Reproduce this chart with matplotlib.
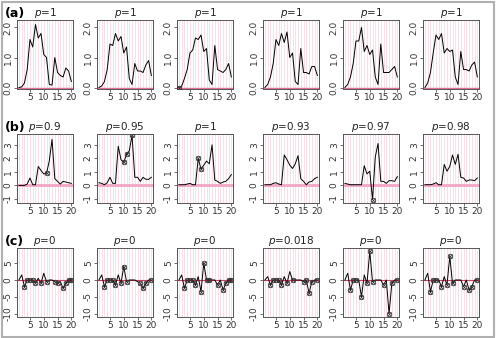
import matplotlib.pyplot as plt
import matplotlib.patches as mpatches
import numpy as np

x = np.arange(1, 21)

# row (a): y values per panel
a_vals = [
    [0.0, 0.02, 0.15, 0.6, 1.6, 1.35, 2.1, 1.65, 1.8, 1.1, 1.0, 0.1, 0.08, 1.0, 0.5, 0.4, 0.35, 0.65, 0.55, 0.2],
    [0.0, 0.05, 0.2, 0.6, 1.45, 1.4, 1.8, 1.55, 1.7, 1.15, 1.35, 0.3, 0.1, 0.8, 0.55, 0.55, 0.5, 0.75, 0.9, 0.4],
    [0.0, 0.05, 0.3, 0.6, 1.15, 1.25, 1.65, 1.6, 1.75, 1.2, 1.3, 0.25, 0.1, 1.4, 0.6, 0.55, 0.5, 0.6, 0.8, 0.35],
    [0.0, 0.1, 0.35, 0.8, 1.6, 1.4, 1.8, 1.5, 1.85, 1.0, 1.15, 0.2, 0.1, 1.3, 0.5, 0.5, 0.45, 0.7, 0.7, 0.4],
    [0.0, 0.1, 0.35, 0.8, 1.55, 1.55, 2.0, 1.2, 1.4, 1.1, 1.25, 0.35, 0.1, 1.45, 0.5, 0.5, 0.5, 0.6, 0.7, 0.35],
    [0.0, 0.15, 0.5, 1.15, 1.75, 1.6, 1.8, 1.15, 1.3, 1.2, 1.25, 0.35, 0.1, 1.2, 0.6, 0.6, 0.55, 0.75, 0.85, 0.35],
]
a_marks = [[], [], [1], [], [], []]
a_titles = ["1", "1", "1", "1", "1", "1"]

# row (b)
b_vals = [
    [0.0, 0.0, 0.0, 0.1, 0.55, 0.05, 0.05, 1.4, 1.1, 0.85, 0.9, 1.8, 3.4, 0.5, 0.3, 0.1, 0.3, 0.25, 0.2, 0.15],
    [0.2, 0.15, 0.05, 0.2, 0.6, 0.15, 0.15, 2.9, 1.9, 1.7, 2.3, 2.55, 3.7, 0.6, 0.6, 0.3, 0.6, 0.45, 0.45, 0.6],
    [0.05, 0.05, 0.05, 0.1, 0.15, 0.05, 0.05, 2.0, 1.2, 1.5, 1.8, 1.6, 3.0, 0.4, 0.3, 0.15, 0.25, 0.3, 0.5, 0.8],
    [0.05, 0.05, 0.05, 0.15, 0.2, 0.1, 0.05, 2.25, 1.9, 1.5, 1.25, 1.6, 2.2, 0.5, 0.3, 0.05, 0.25, 0.3, 0.5, 0.6],
    [0.15, 0.1, 0.05, 0.05, 0.05, 0.05, 0.05, 1.45, 0.85, 1.05, -1.05, 2.1, 3.1, 0.3, 0.3, 0.15, 0.35, 0.35, 0.3, 0.65],
    [0.05, 0.05, 0.05, 0.1, 0.2, 0.05, 0.05, 1.55, 1.05, 1.4, 2.25, 1.55, 2.3, 0.6, 0.55, 0.3, 0.4, 0.4, 0.35, 0.55],
]
b_marks = [[11], [10, 11, 13], [8, 9], [], [11], []]
b_titles = ["0.9", "0.95", "1", "0.93", "0.97", "0.98"]

# row (c)
c_vals = [
    [0, 1.5, -2, 0, 0, 0, -1, 0.5, -1, 2, -0.5, 0, 0, -0.5, -1, -0.5, -2.5, -1, 0, 0],
    [0, 1.5, -2, 0, 0, 0, -1.5, 1.5, -1, 4, -0.5, 0, 0, 0, -0.5, -1, -2.5, -1, 0, 0],
    [0, 1.5, -2.5, 0, 0, 0, -1.5, 1, -3.5, 5, 0, 0, 0, 0, -1.5, 0, -3, -1, 0, 0],
    [0, 1, -1.5, 0, 0, 0, -1.5, 1, -1, 2.5, 0, 0, 0, 0, -0.5, 0, -4, -0.5, 0, 0],
    [0, 2, -3, 0, 0, 0, -5, 1.5, -1, 8.5, -0.5, 0, 0, 0, -1.5, 0, -10, -1, 0, 0],
    [0, 2, -3.5, 0, 0, 0, -2, 1, -1.5, 7, -1, 0, 0, 0, -2, 0, -3, -2, 0, 0],
]
c_marks = [
    [3, 4, 5, 6, 7, 9, 11, 14, 15, 17, 18, 19, 20],
    [3, 4, 5, 6, 7, 9, 10, 11, 16, 17, 18, 20],
    [3, 4, 5, 6, 7, 9, 10, 11, 12, 15, 17, 18, 19, 20],
    [3, 4, 5, 6, 7, 9, 11, 15, 16, 17, 18, 20],
    [3, 4, 5, 7, 9, 10, 11, 15, 17, 18, 20],
    [3, 4, 5, 7, 9, 10, 11, 15, 17, 18, 20],
]
c_titles = ["0", "0", "0", "0.018", "0", "0"]

rows = [
    ("(a)", a_vals, a_marks, a_titles, (-0.05, 2.25), [0.0, 1.0, 2.0], ["0.0", "1.0", "2.0"], "#e07090", 1.0),
    ("(b)", b_vals, b_marks, b_titles, (-1.3, 3.8), [-1, 0, 1, 2, 3], ["-1", "0", "1", "2", "3"], "#f2a6c4", 2.0),
    ("(c)", c_vals, c_marks, c_titles, (-11, 9.5), [-10, -5, 0, 5], ["-10", "-5", "0", "5"], "#d04060", 0.8),
]

W, H = 496, 338
fig = plt.figure(figsize=(W / 100, H / 100), dpi=100)
fig.patches.append(mpatches.Rectangle((0.004, 0.004), 0.992, 0.99, transform=fig.transFigure,
                                      fill=False, edgecolor="#b0b0b0", linewidth=1.5))

lefts = [17, 97, 177, 263, 343, 423]
pw = 56
tops = [20, 134, 248]
ph = 69

for r, (lab, vals, marks, titles, ylim, yt, ytl, zcol, zlw) in enumerate(rows):
    fig.text(5 / W, 1 - (tops[r] - 7) / H, lab, fontsize=9, fontweight="bold", va="center", ha="left")
    for c in range(6):
        ax = fig.add_axes([lefts[c] / W, 1 - (tops[r] + ph) / H, pw / W, ph / H])
        for xi in x:
            ax.axvline(xi, color="#f9d9e6", lw=0.6, zorder=0)
        ax.axhline(0, color=zcol, lw=zlw, zorder=1)
        y = np.array(vals[c])
        ax.plot(x, y, color="black", lw=0.7, zorder=3)
        m = np.array(marks[c], dtype=int)
        if len(m):
            ax.plot(m, y[m - 1], ls="none", marker="o", ms=3.2, mfc="none", mec="#333333", mew=0.6, zorder=4)
            ax.plot(m, y[m - 1], ls="none", marker="x", ms=2.2, mec="#333333", mew=0.5, zorder=4)
        ax.set_xlim(0.3, 20.6)
        ax.set_ylim(*ylim)
        ax.set_xticks([5, 10, 15, 20])
        ax.set_yticks(yt)
        ax.set_yticklabels(ytl, rotation=90, va="center")
        ax.tick_params(labelsize=6.5, length=2, width=0.5, pad=1, colors="#333333")
        for s in ax.spines.values():
            s.set_color("#555555")
            s.set_linewidth(0.7)
        ax.set_title(r"$\mathit{p}$=" + titles[c], fontsize=7.5, pad=2, color="#222222")

plt.savefig("out.png", dpi=100)
